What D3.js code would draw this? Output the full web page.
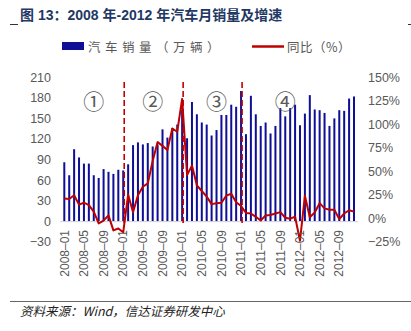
<!DOCTYPE html>
<html>
<head>
<meta charset="utf-8">
<script src="https://cdn.jsdelivr.net/npm/d3@7/dist/d3.min.js"></script>
<style>
  html, body { margin: 0; padding: 0; background: #ffffff; }
  svg { display: block; }
</style>
</head>
<body>
<svg id="chart" width="411" height="331"></svg>
<script>
// Monthly car sales (10k units) and year-on-year growth, 2008-01 .. 2012-12
const years = ["2008", "2009", "2010", "2011", "2012"];
const months = years.flatMap(y => d3.range(1, 13).map(m => y + "–" + String(m).padStart(2, "0")));

const sales = [
  86, 67, 105, 93, 84, 84, 67, 63, 76, 72, 69, 75,
  74, 83, 111, 115, 112, 114, 109, 112, 134, 122, 136, 141,
  163, 121, 174, 156, 144, 141, 125, 133, 155, 155, 170, 167,
  190, 127, 183, 156, 139, 144, 128, 139, 165, 153, 165, 170,
  140, 157, 184, 163, 162, 158, 139, 150, 162, 161, 179, 182
];

const growth = [
  21, 20.5, 24.5, 14.5, 16.5, 14, 7, -5.5, -2.5, 3, -13, -11,
  -15, 25, 6.5, 24.5, 33.5, 37, 61, 81, 77, 72.5, 95.5, 92,
  127, 46, 56, 35, 29, 23, 15, 16, 16.5, 24, 26, 17,
  13, 5.5, 5, 1.5, -2.5, 3, 3.5, 5, 6.5, 0.5, -0.5, 1.5,
  -24, 24, 1, 6, 16, 10.5, 9, 9, -1, 5, 8.5, 7
];

const leftTicks = [-30, 0, 30, 60, 90, 120, 150, 180, 210];
const rightTicks = [-25, 0, 25, 50, 75, 100, 125, 150];
const tickMonths = months.filter((d, i) => i % 4 === 0);
const phaseStarts = ["2009–01", "2010–01", "2011–01"];
const phaseLabels = ["①", "②", "③", "④"];
const phaseLabelMonths = ["2008–07", "2009–07", "2010–08", "2011–10"];

const title = "图 13：2008 年-2012 年汽车月销量及增速";
const legendSales = "汽车销量（万辆）";
const legendGrowth = "同比（%）";
const source = "资料来源：Wind，信达证券研发中心";

const svg = d3.select("#chart");
const grayText = "#595959";
const barColor = "#0f0f96";
const lineColor = "#c00000";

const plotTop = 77.3, plotBottom = 241.7;
const x = d3.scalePoint().domain(months).range([64.3, 354]);
const yL = d3.scaleLinear().domain([-30, 210]).range([plotBottom, plotTop]);
const yR = d3.scaleLinear().domain([-25, 150]).range([plotBottom, plotTop]);

// Title
svg.append("text")
  .attr("x", 20).attr("y", 20)
  .attr("font-family", "'Liberation Sans', 'Noto Sans CJK SC', sans-serif")
  .attr("font-weight", "bold").attr("font-size", 14)
  .attr("fill", "#1f3864")
  .text(title);
svg.append("line").attr("x1", 10).attr("x2", 18).attr("y1", 24.5).attr("y2", 24.5)
  .attr("stroke", "#333").attr("stroke-width", 1);
svg.append("line").attr("x1", 408).attr("x2", 411).attr("y1", 24.5).attr("y2", 24.5)
  .attr("stroke", "#333").attr("stroke-width", 1);

// Legend
const cjk = "'Noto Sans CJK SC', sans-serif";
svg.append("rect").attr("x", 62).attr("y", 42).attr("width", 22).attr("height", 8)
  .attr("fill", barColor);
svg.append("text").attr("x", 88).attr("y", 51.5)
  .attr("font-family", cjk).attr("font-size", 12.5).attr("letter-spacing", 4.5)
  .attr("fill", grayText).text(legendSales);
svg.append("line").attr("x1", 252).attr("x2", 284).attr("y1", 46.5).attr("y2", 46.5)
  .attr("stroke", lineColor).attr("stroke-width", 2.5);
svg.append("text").attr("x", 287).attr("y", 51.5)
  .attr("font-family", cjk).attr("font-size", 12.5).attr("letter-spacing", 0.5)
  .attr("fill", grayText).text(legendGrowth);

// Left axis labels
const axisFont = "'Liberation Sans', Arial, sans-serif";
const leftAxis = svg.append("g").attr("transform", "translate(51,0)")
  .call(d3.axisLeft(yL).tickValues(leftTicks).tickSize(0).tickPadding(0).tickFormat(d => d < 0 ? "−" + Math.abs(d) : d));
leftAxis.select(".domain").remove();
leftAxis.selectAll("text").attr("font-family", axisFont).attr("font-size", 12.5).attr("fill", grayText);

// Right axis labels
const rightAxis = svg.append("g").attr("transform", "translate(368,0)")
  .call(d3.axisRight(yR).tickValues(rightTicks).tickSize(0).tickPadding(0).tickFormat(d => (d < 0 ? "−" + Math.abs(d) : d) + "%"));
rightAxis.select(".domain").remove();
rightAxis.selectAll("text").attr("font-family", axisFont).attr("font-size", 12.5).attr("fill", grayText);

// Bars
svg.append("g").selectAll("rect").data(months).join("rect")
  .attr("x", d => x(d) - 1)
  .attr("width", 2)
  .attr("y", (d, i) => yL(sales[i]))
  .attr("height", (d, i) => yL(0) - yL(sales[i]))
  .attr("fill", barColor);

// Zero baseline
svg.append("line")
  .attr("x1", x.range()[0] - 4).attr("x2", x.range()[1] + 4)
  .attr("y1", yL(0) + 0.5).attr("y2", yL(0) + 0.5)
  .attr("stroke", "#d0d0d0").attr("stroke-width", 1);

// Phase separators
svg.append("g").selectAll("line").data(phaseStarts).join("line")
  .attr("x1", d => x(d) + 1).attr("x2", d => x(d) + 1)
  .attr("y1", 82).attr("y2", 226)
  .attr("stroke", lineColor).attr("stroke-width", 1.6)
  .attr("stroke-dasharray", "6,3");

// Growth line
const line = d3.line().x(d => x(d[0])).y(d => yR(d[1]));
svg.append("path")
  .datum(months.map((m, i) => [m, growth[i]]))
  .attr("d", line)
  .attr("fill", "none").attr("stroke", lineColor).attr("stroke-width", 2)
  .attr("stroke-linejoin", "round");

// Phase numbers
svg.append("g").selectAll("text").data(phaseLabels).join("text")
  .attr("x", (d, i) => x(phaseLabelMonths[i]))
  .attr("y", 109)
  .attr("text-anchor", "middle")
  .attr("font-family", cjk).attr("font-size", 21)
  .attr("fill", grayText)
  .text(d => d);

// X tick labels (rotated)
svg.append("g").selectAll("text").data(tickMonths).join("text")
  .attr("transform", d => `translate(${x(d)},230) rotate(-90)`)
  .attr("text-anchor", "end")
  .attr("dy", "0.35em")
  .attr("font-family", axisFont).attr("font-size", 12)
  .attr("fill", grayText)
  .text(d => d);

// Footer
svg.append("line").attr("x1", 10).attr("x2", 411).attr("y1", 301.5).attr("y2", 301.5)
  .attr("stroke", "#666").attr("stroke-width", 1);
svg.append("text").attr("x", 20).attr("y", 316)
  .attr("font-family", "'Noto Sans CJK SC', 'Liberation Sans', sans-serif")
  .attr("font-style", "italic").attr("font-size", 12.5)
  .attr("fill", "#222").text(source);
</script>
</body>
</html>
